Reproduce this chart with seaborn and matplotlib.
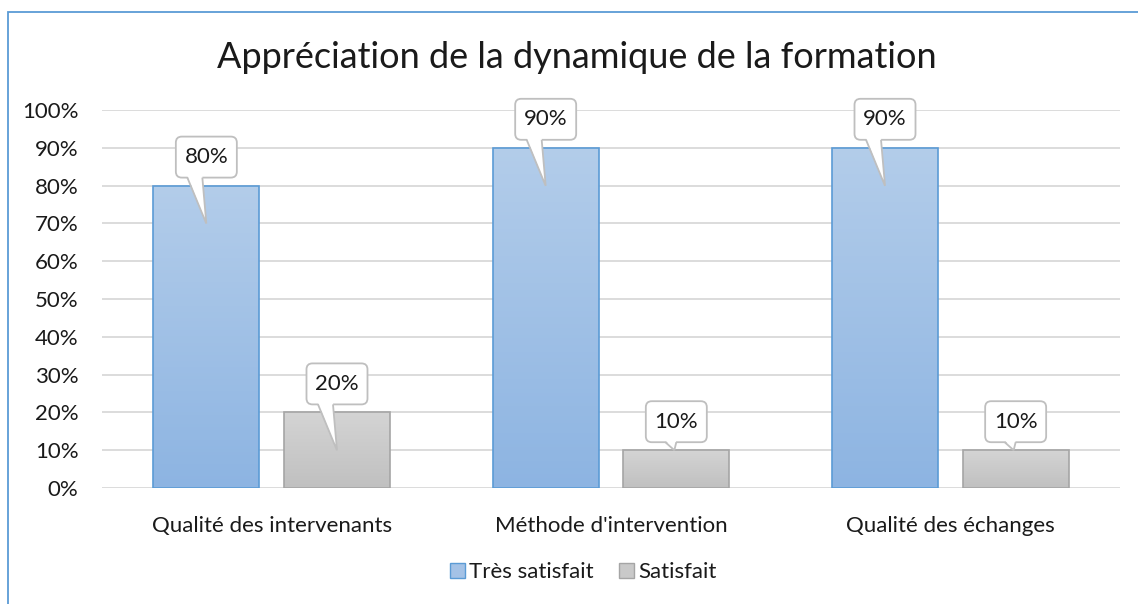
import numpy as np
import pandas as pd
import matplotlib.pyplot as plt
import matplotlib.transforms as mtransforms
from matplotlib.patches import FancyBboxPatch, Polygon, Patch, Rectangle
import seaborn as sns

# data
criteres = ["Qualité des intervenants", "Méthode d'intervention", "Qualité des échanges"]
tres_satisfait = [0.80, 0.90, 0.90]
satisfait = [0.20, 0.10, 0.10]
niveaux = ["Très satisfait", "Satisfait"]

df = pd.DataFrame({
    "critere": criteres * 2,
    "pct": tres_satisfait + satisfait,
    "niveau": [niveaux[0]] * 3 + [niveaux[1]] * 3,
})

sns.set_style("white")
plt.rcParams['font.family'] = ['Lato', 'DejaVu Sans']
txt = '#1a1a1a'
fs = 16

fig = plt.figure(figsize=(11.38, 6.04), dpi=100)
ax = fig.add_axes([102 / 1138, 1 - 488 / 604, (1120 - 102) / 1138, (488 - 110) / 604])

blue_edge, gray_edge = '#5b9bd5', '#a5a5a5'
sns.barplot(data=df, x='critere', y='pct', hue='niveau', order=criteres, hue_order=niveaux,
            palette=['#a4c2e6', '#c9c9c9'], width=0.77, gap=0.19, ax=ax, legend=False,
            errorbar=None, zorder=2)

# gradient fill inside each bar
grads = {
    0: ('#b3cdea', '#8db4e2'),
    1: ('#d4d4d4', '#c0c0c0'),
}
bars = list(ax.patches)
for i, p in enumerate(bars):
    k = 0 if i < 3 else 1
    top, bot = grads[k]
    c1 = np.array(plt.matplotlib.colors.to_rgb(top))
    c2 = np.array(plt.matplotlib.colors.to_rgb(bot))
    t = np.linspace(0, 1, 100)[:, None]
    img = (c1 * (1 - t) + c2 * t)[:, None, :]
    x0, y0 = p.get_x(), p.get_y()
    w, h = p.get_width(), p.get_height()
    im = ax.imshow(img, extent=[x0, x0 + w, y0, y0 + h], aspect='auto', origin='upper', zorder=2)
    im.set_clip_path(p)
    p.set_facecolor('none')
    p.set_edgecolor(blue_edge if k == 0 else gray_edge)
    p.set_linewidth(1.2)
    p.set_zorder(3)

ax.set_ylim(0, 1)
ax.set_xlim(-0.5, 2.5)

ax.set_yticks(np.arange(0, 1.01, 0.1))
ax.set_yticklabels([f"{int(round(v * 100))}%" for v in np.arange(0, 1.01, 0.1)])
ax.yaxis.grid(True, color='#d9d9d9', linewidth=1.3, zorder=0)
ax.set_axisbelow(True)
for s in ax.spines.values():
    s.set_visible(False)
ax.tick_params(axis='y', length=0, pad=17, labelsize=fs, labelcolor=txt)
ax.tick_params(axis='x', length=0, pad=20, labelsize=fs, labelcolor=txt)
ax.set_xlabel('')
ax.set_ylabel('')

# callout labels
dpi = fig.dpi
for i, p in enumerate(bars):
    xc = p.get_x() + p.get_width() / 2
    v = p.get_height()
    tr = mtransforms.Affine2D().scale(dpi) + mtransforms.ScaledTranslation(xc, v, ax.transData)
    # pixel units relative to bar top centre
    bw, bb, bt = 61, 8, 49
    if v > 0.15:
        tip = (0, -38)
        base = (-19, -4)
    else:
        tip = (-2, 0)
        base = (-11, 0)
    s = 1 / dpi
    box = FancyBboxPatch(((-bw / 2) * s, bb * s), bw * s, (bt - bb) * s,
                         boxstyle=f"round,pad=0,rounding_size={6 * s}",
                         transform=tr, facecolor='white', edgecolor='#bfbfbf',
                         linewidth=1.3, zorder=5, clip_on=False)
    ax.add_patch(box)
    ax.add_patch(Polygon([(base[0] * s, (bb + 2) * s), (tip[0] * s, tip[1] * s),
                          (base[1] * s, (bb + 2) * s)], closed=True, transform=tr,
                         facecolor='white', edgecolor='none', zorder=6, clip_on=False))
    ax.add_patch(Polygon([(base[0] * s, bb * s), (tip[0] * s, tip[1] * s),
                          (base[1] * s, bb * s)], closed=False, transform=tr,
                         facecolor='none', edgecolor='#bfbfbf', linewidth=1.3, zorder=7,
                         clip_on=False))
    ax.text(0, (bb + bt) / 2 * s, f"{int(round(v * 100))}%", transform=tr,
            ha='center', va='center', fontsize=fs, color=txt, zorder=8, clip_on=False)

fig.suptitle("Appréciation de la dynamique de la formation", x=0.507, y=1 - 58 / 604,
             va='center', fontsize=26, color=txt)

handles = [Patch(facecolor='#a4c2e6', edgecolor=blue_edge, label=niveaux[0]),
           Patch(facecolor='#c9c9c9', edgecolor=gray_edge, label=niveaux[1])]
fig.legend(handles=handles, loc='center', bbox_to_anchor=(0.5128, 1 - 572 / 604), ncol=2,
           frameon=False, fontsize=fs, handlelength=0.65, handleheight=0.65,
           handletextpad=0.2, columnspacing=1.15, labelcolor=txt)

# outer border (only left and top visible in the crop)
fig.patches.append(Rectangle((8 / 1138, -0.1), 1.2, 1.1 - 12 / 604, transform=fig.transFigure,
                             fill=False, edgecolor='#5b9bd5', linewidth=1.3, zorder=0))

fig.savefig("out.png", dpi=100)
